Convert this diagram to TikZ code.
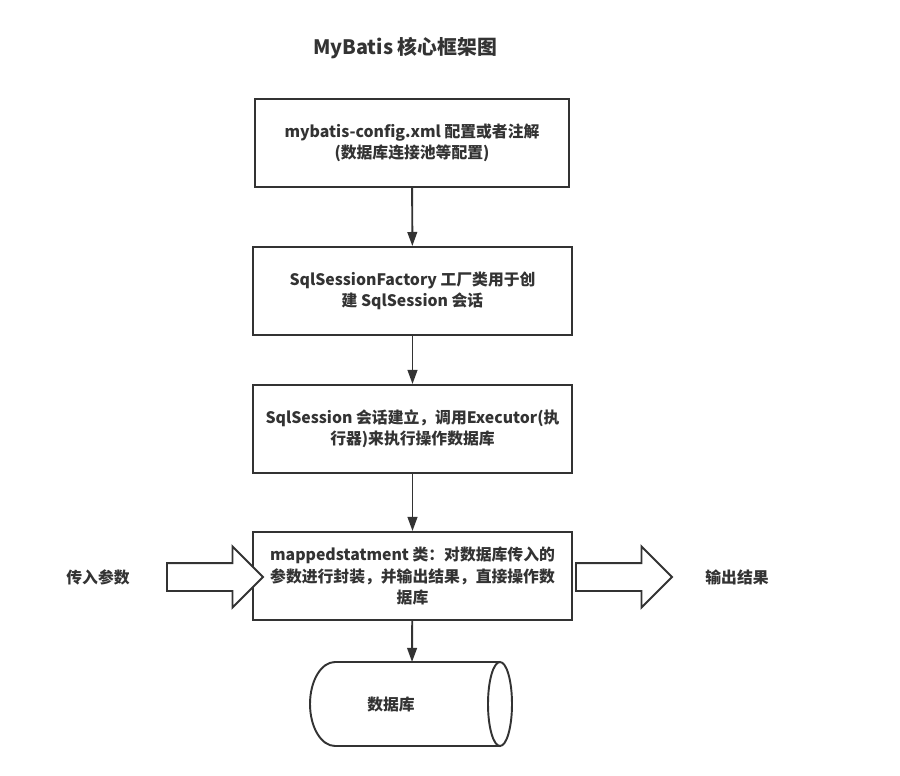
\documentclass[tikz,border=0pt]{standalone}
\usepackage{fontspec}
\setmainfont{Noto Sans CJK SC}
\usetikzlibrary{arrows.meta,positioning,shapes.arrows}
\definecolor{wiregray}{HTML}{333333}
\definecolor{labelgray}{HTML}{333333}

\tikzset{
  stepbox/.style={draw=wiregray, line width=1.1pt, minimum width=6.38cm, minimum height=1.76cm,
    align=center, text=labelgray, font=\bfseries\fontsize{9pt}{12pt}\selectfont},
  flow/.style={draw=wiregray, line width=1.1pt, -{Triangle[length=8pt,width=5.5pt]}},
  fatarrow/.style={single arrow, draw=wiregray, line width=1.1pt, fill=white, inner xsep=0pt, inner ysep=0.26cm,
    minimum height=1.92cm, single arrow head extend=0.33cm, outer sep=0pt},
  sidetext/.style={text=labelgray, font=\bfseries\fontsize{9pt}{12pt}\selectfont}
}

\begin{document}
\begin{tikzpicture}[x=0.02cm, y=-0.02cm, >=Stealth]
  \useasboundingbox (0,0) rectangle (900,775);

  \node[text=labelgray, font=\bfseries\fontsize{11.3pt}{14pt}\selectfont] (title) at (405,48) {MyBatis 核心框架图};

  \node[stepbox, minimum width=6.28cm] (config) at (412,143) {mybatis-config.xml 配置或者注解\\(数据库连接池等配置)};
  \node[stepbox] (factory) at (412.5,291) {SqlSessionFactory 工厂类用于创\\建 SqlSession 会话};
  \node[stepbox] (session) at (412.5,429) {SqlSession 会话建立，调用Executor(执\\行器)来执行操作数据库};
  \node[stepbox] (mapped) at (412.5,576) {mappedstatment 类：对数据库传入的\\参数进行封装，并输出结果，直接操作数\\据库};

  % database cylinder
  \draw[wiregray, line width=1.1pt] (500,662) -- (335,662) arc[start angle=90, end angle=270, x radius=0.5cm, y radius=0.84cm] -- (500,746);
  \draw[wiregray, line width=1.1pt] (500,704) ellipse[x radius=0.24cm, y radius=0.84cm];
  \coordinate (dbtop) at (412,662);
  \node[sidetext] (db) at (391,704) {数据库};

  \draw[flow] (config) -- (factory);
  \draw[flow] (factory) -- (session);
  \draw[flow] (session) -- (mapped);
  \draw[flow] (mapped) -- (dbtop);

  % input / output
  \node[sidetext] (input) at (98,577) {传入参数};
  \node[sidetext] (output) at (737,577) {输出结果};
  \node[fatarrow] (inarrow) at (208,577) {};
  \node[fatarrow] (outarrow) at (617,577) {};
\end{tikzpicture}
\end{document}
